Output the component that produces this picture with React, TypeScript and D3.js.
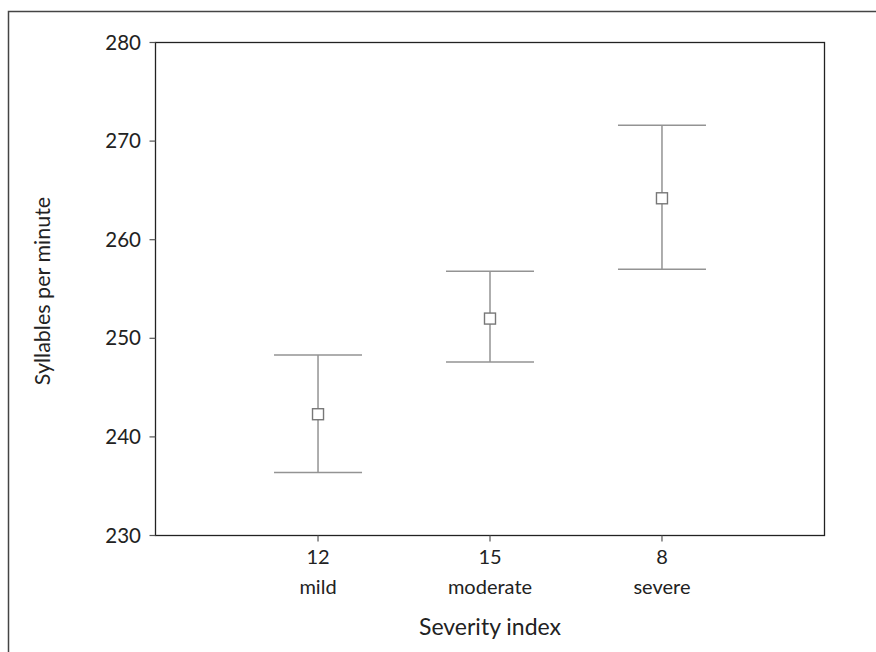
import React from 'react';
import * as d3 from 'd3';

// Severity groups (x) and syllables-per-minute summary (y)
const indexLabels = ['12', '15', '8'];
const severityLabels = ['mild', 'moderate', 'severe'];
const means = [242.3, 252.0, 264.2];
const upper = [248.3, 256.8, 271.6];
const lower = [236.4, 247.6, 257.0];
const yTicks = [230, 240, 250, 260, 270, 280];

const W = 876;
const H = 652;
const M = { left: 155.5, right: 824.5, top: 42.5, bottom: 535.5 };

const App = () => {
  const x = d3.scaleLinear().domain([0.055, 3.945]).range([M.left, M.right]);
  const y = d3.scaleLinear().domain([230, 280]).range([M.bottom, M.top]);

  const font = 'Lato, "Open Sans", sans-serif';
  const capHalf = 44;
  const sq = 11;
  const barColor = '#939393';

  return (
    <svg width={W} height={H} style={{ position: 'absolute', left: 0, top: 0 }}>
      <rect x={0} y={0} width={W} height={H} fill="#fff" />
      {/* outer frame (runs off the right and bottom edges) */}
      <path d={`M8.5,${H + 2} V11.5 H${W + 2}`} fill="none" stroke="#444" strokeWidth={1.5} />

      {/* plot box */}
      <rect x={M.left} y={M.top} width={M.right - M.left} height={M.bottom - M.top}
        fill="none" stroke="#222" strokeWidth={1.3} />

      {/* y axis ticks */}
      {yTicks.map(t => (
        <g key={t}>
          <line x1={M.left - 6} x2={M.left} y1={y(t)} y2={y(t)} stroke="#555" strokeWidth={1.2} />
          <text x={141} y={y(t)} dy="0.35em" textAnchor="end" fontFamily={font} fontSize={20.5} fill="#222">
            {t}
          </text>
        </g>
      ))}

      {/* x axis ticks + labels */}
      {indexLabels.map((lbl, i) => (
        <g key={lbl}>
          <line x1={x(i + 1)} x2={x(i + 1)} y1={M.bottom} y2={M.bottom + 6} stroke="#555" strokeWidth={1.2} />
          <text x={x(i + 1)} y={564} textAnchor="middle" fontFamily={font} fontSize={20} fill="#222">{lbl}</text>
          <text x={x(i + 1)} y={594} textAnchor="middle" fontFamily={font} fontSize={20} fill="#222">
            {severityLabels[i]}
          </text>
        </g>
      ))}

      {/* error bars */}
      {means.map((m, i) => {
        const cx = x(i + 1);
        return (
          <g key={i}>
            <line x1={cx} x2={cx} y1={y(upper[i])} y2={y(lower[i])} stroke={barColor} strokeWidth={1.5} />
            <line x1={cx - capHalf} x2={cx + capHalf} y1={y(upper[i])} y2={y(upper[i])} stroke={barColor} strokeWidth={1.5} />
            <line x1={cx - capHalf} x2={cx + capHalf} y1={y(lower[i])} y2={y(lower[i])} stroke={barColor} strokeWidth={1.5} />
            <rect x={cx - sq / 2} y={y(m) - sq / 2} width={sq} height={sq}
              fill="#fff" stroke="#777" strokeWidth={1.4} />
          </g>
        );
      })}

      {/* axis titles */}
      <text x={(M.left + M.right) / 2} y={635} textAnchor="middle" fontFamily={font} fontSize={23} fill="#222">
        Severity index
      </text>
      <text transform={`translate(50,${(M.top + M.bottom) / 2 + 2}) rotate(-90)`} textAnchor="middle"
        fontFamily={font} fontSize={21.5} fill="#222">
        Syllables per minute
      </text>
    </svg>
  );
};

export default App;
